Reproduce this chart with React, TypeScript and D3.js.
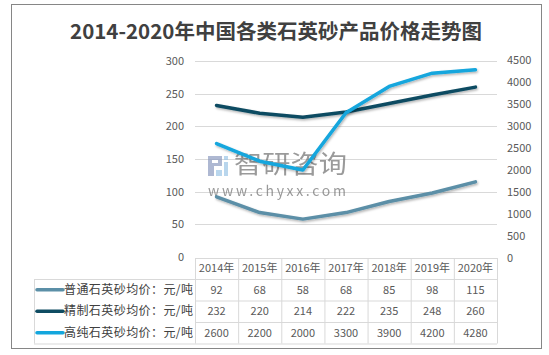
import React from "react";
import * as d3 from "d3";

const years = ["2014年", "2015年", "2016年", "2017年", "2018年", "2019年", "2020年"];
const seriesNames = ["普通石英砂均价：元/吨", "精制石英砂均价：元/吨", "高纯石英砂均价：元/吨"];
const ordinary = [92, 68, 58, 68, 85, 98, 115];
const refined = [232, 220, 214, 222, 235, 248, 260];
const highPurity = [2600, 2200, 2000, 3300, 3900, 4200, 4280];
const leftTicks = [0, 50, 100, 150, 200, 250, 300];
const rightTicks = [0, 500, 1000, 1500, 2000, 2500, 3000, 3500, 4000, 4500];
const colors = ["#5b8fa7", "#0f4c62", "#13a6dd"];
const title = "2014-2020年中国各类石英砂产品价格走势图";

const FONT = "'Noto Sans CJK SC', 'Noto Sans', sans-serif";

export default function App() {
  const W = 549, H = 355;
  const x = d3.scaleBand<string>().domain(years).range([195, 497]).paddingInner(0).paddingOuter(0);
  const yL = d3.scaleLinear().domain([0, 300]).range([257, 61]);
  const yR = d3.scaleLinear().domain([0, 4500]).range([258, 60]);
  const cx = (d: string) => (x(d) as number) + x.bandwidth() / 2;

  const lineL = d3.line<number>().x((_, i) => cx(years[i])).y((v) => yL(v));
  const lineR = d3.line<number>().x((_, i) => cx(years[i])).y((v) => yR(v));

  const series = [ordinary, refined, highPurity];
  const paths = [lineL(ordinary), lineL(refined), lineR(highPurity)];

  const tableTop = 258;
  const headerBottom = 279;
  const rowH = 21.5;
  const tableLeft = 34;
  const grid = "#d9d9d9";
  const textColor = "#595959";

  return (
    <svg width={W} height={H} style={{ position: "absolute", left: 0, top: 0, fontFamily: FONT }}>
      <defs>
        <filter id="sh" x="-10%" y="-30%" width="120%" height="160%">
          <feDropShadow dx="1" dy="1.5" stdDeviation="1" floodColor="#000" floodOpacity="0.3" />
        </filter>
      </defs>
      <rect x={0} y={0} width={W} height={H} fill="#fff" />
      <rect x={11.5} y={4.5} width={530} height={344} fill="#fff" stroke="#868686" strokeWidth={1} />
      <text x={276} y={39} textAnchor="middle" fontSize={20.5} fontWeight="bold" fill="#404040">
        {title}
      </text>

      {/* gridlines */}
      {leftTicks.slice(1).map((t) => (
        <line key={t} x1={195} x2={497} y1={Math.round(yL(t)) + 0.5} y2={Math.round(yL(t)) + 0.5} stroke={grid} strokeWidth={1} />
      ))}

      {/* left axis labels */}
      {leftTicks.map((t) => (
        <text key={t} x={184} y={yL(t)} dy="0.35em" textAnchor="end" fontSize={11} fill={textColor}>
          {t}
        </text>
      ))}
      {/* right axis labels */}
      {rightTicks.map((t) => (
        <text key={t} x={507} y={yR(t)} dy="0.35em" textAnchor="start" fontSize={11} fill={textColor}>
          {t}
        </text>
      ))}

      {/* watermark */}
      <g opacity={0.7}>
        <path d="M208,156 h14 v10 h-8 v10 h-6 z M212,160 v3 h6 v-3 z" fill="#8c9bc0" fillRule="evenodd" />
        <rect x={224} y={156} width={4} height={4} fill="#9cc6e6" />
        <rect x={224} y={162} width={4} height={14} fill="#9cc6e6" />
        <rect x={216} y={170} width={6} height={6} fill="#9cc6e6" />
        <text x={234} y={173} fontSize={25} fill="#707070" textLength={113} lengthAdjust="spacingAndGlyphs">
          智研咨询
        </text>
        <text x={208} y={196} fontSize={14} fill="#707070" textLength={138} lengthAdjust="spacing">
          www.chyxx.com
        </text>
      </g>

      {/* lines */}
      {paths.map((p, i) => (
        <path key={i} d={p || ""} fill="none" stroke={colors[i]} strokeWidth={3.5} strokeLinecap="round" strokeLinejoin="round" filter="url(#sh)" />
      ))}

      {/* table */}
      <g>
        <line x1={195} x2={497} y1={tableTop + 0.5} y2={tableTop + 0.5} stroke={grid} />
        {years.map((yv) => (
          <text key={yv} x={cx(yv)} y={(tableTop + headerBottom) / 2} dy="0.35em" textAnchor="middle" fontSize={11} fill={textColor}>
            {yv}
          </text>
        ))}
        {[0, 1, 2, 3].map((r) => (
          <line key={r} x1={r === 0 ? tableLeft : 195} x2={497} y1={headerBottom + r * rowH + 0.5} y2={headerBottom + r * rowH + 0.5} stroke={grid} />
        ))}
        <line x1={tableLeft + 0.5} x2={tableLeft + 0.5} y1={headerBottom} y2={headerBottom + 3 * rowH} stroke={grid} />
        <line x1={tableLeft} x2={195} y1={headerBottom + 3 * rowH + 0.5} y2={headerBottom + 3 * rowH + 0.5} stroke={grid} />
        {years.map((yv) => (
          <line key={yv} x1={(x(yv) as number) + 0.5} x2={(x(yv) as number) + 0.5} y1={tableTop} y2={headerBottom + 3 * rowH} stroke={grid} />
        ))}
        <line x1={497.5} x2={497.5} y1={tableTop} y2={headerBottom + 3 * rowH} stroke={grid} />
        {seriesNames.map((n, r) => {
          const yc = headerBottom + r * rowH + rowH / 2;
          return (
            <g key={n}>
              <line x1={37} x2={63} y1={yc} y2={yc} stroke={colors[r]} strokeWidth={3.5} strokeLinecap="round" />
              <text x={64} y={yc} dy="0.35em" fontSize={12} fill="#404040" textLength={129} lengthAdjust="spacing">
                {n}
              </text>
              {series[r].map((v, i) => (
                <text key={i} x={cx(years[i])} y={yc} dy="0.35em" textAnchor="middle" fontSize={11} fill={textColor}>
                  {v}
                </text>
              ))}
            </g>
          );
        })}
      </g>
    </svg>
  );
}
